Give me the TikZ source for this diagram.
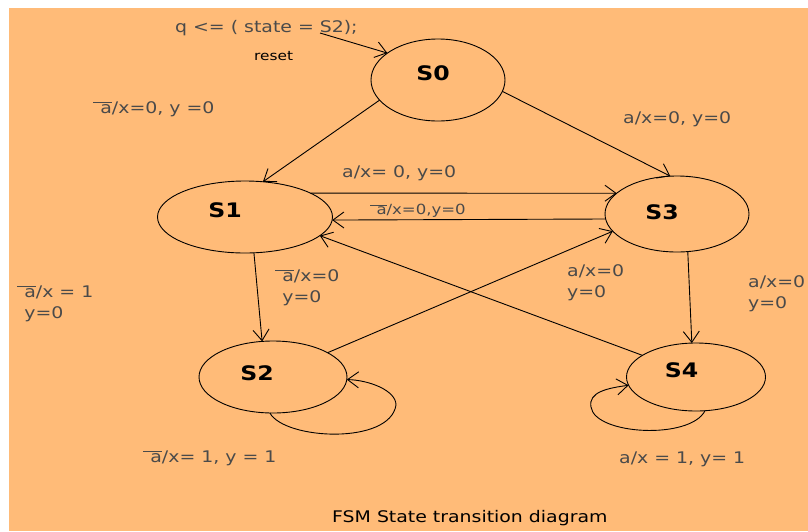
\documentclass[tikz,border=0pt]{standalone}
\usepackage{fontspec}
\usepackage{xcolor}
\usepackage{tikz}
\usetikzlibrary{arrows.meta,shapes.geometric}
\newfontfamily\fsmfont[FakeStretch=1.18]{DejaVu Sans}
\definecolor{fsmbg}{HTML}{FFBB78}
\definecolor{fsmgray}{HTML}{4A4A4A}
\newcommand{\na}{$\overline{\mbox{\hspace{0.45em}a}}$}
\newcommand{\stname}[3]{\hspace*{#1}\raisebox{#2}{#3}}

\begin{document}
\begin{tikzpicture}[x=1pt,y=-1pt]
  \tikzset{fsm state/.style 2 args={draw,ellipse,line width=0.9pt,inner sep=0pt,outer sep=0pt,minimum width=#1,minimum height=#2,font=\fsmfont\fontsize{20}{24}\selectfont\bfseries},
    fsm arrow/.style={line width=0.9pt,-{Straight Barb[length=11pt,width=16pt]}},
    fsm label/.style={anchor=base west,inner sep=0pt,text=fsmgray,align=left,font=\fsmfont\fontsize{16}{21}\selectfont}}%

  \fill[fsmbg] (9,8) rectangle (808,531);
  \useasboundingbox (0,0) rectangle (808,531);

  % states
  \node[fsm state={134pt}{82pt}] (S0) at (438,80) {\stname{-10pt}{14pt}{S0}};
  \node[fsm state={175pt}{72pt}] (S1) at (245,217) {\stname{-40pt}{14pt}{S1}};
  \node[fsm state={144pt}{76pt}] (S3) at (677,214) {\stname{-30pt}{4pt}{S3}};
  \node[fsm state={148pt}{72pt}] (S2) at (273,377) {\stname{-32pt}{8pt}{S2}};
  \node[fsm state={139pt}{68pt}] (S4) at (696,377) {\stname{-29pt}{14pt}{S4}};

  % transitions
  \coordinate (rst) at (320,33);
  \draw[fsm arrow] (rst) -- (S0.152);
  \draw[fsm arrow] (S0.199) -- (S1.63);
  \draw[fsm arrow] (S0.-10) -- (S3.100);
  \draw[fsm arrow] (S1.20) -- (S3.161);
  \draw[fsm arrow] (S3.184) -- (S1.-2);
  \draw[fsm arrow] (S1.-76) -- (S2.107);
  \draw[fsm arrow] (S2.24) -- (S3.195);
  \draw[fsm arrow] (S4.158) -- (S1.-14);
  \draw[fsm arrow] (S3.-74) -- (S4.97);
  \draw[fsm arrow] (S2.-95) .. controls (285,440) and (390,445) .. (396,405)
    .. controls (396,390) and (368,380) .. (S2.-2);
  \draw[fsm arrow] (S4.-75) .. controls (690,440) and (595,435) .. (591,407)
    .. controls (588,392) and (608,388) .. (S4.187.5);

  % labels
  \node[fsm label] (lblq) at (175,32) {q <= ( state = S2);};
  \node[fsm label,text=black,font=\fsmfont\fontsize{13}{15}\selectfont] (lblreset) at (254,60) {reset};
  \node[fsm label] (lblS1) at (93,113) {\na/x=0, y =0};
  \node[fsm label] (lblS0S3) at (623,123) {a/x=0, y=0};
  \node[fsm label] (lblS1S3) at (342,177) {a/x= 0, y=0};
  \node[fsm label,font=\fsmfont\fontsize{14}{17}\selectfont] (lblS3S1) at (370,214) {\na/x=0,y=0};
  \node[fsm label] (lblleft) at (17,318) {\na/x = 1\\\hspace*{0.45em}y=0};
  \node[fsm label] (lblS1S2) at (275,302) {\na/x=0\\\hspace*{0.45em}y=0};
  \node[fsm label] (lblS2S3) at (567,297) {a/x=0\\y=0};
  \node[fsm label] (lblS3S4) at (748,308) {a/x=0\\y=0};
  \node[fsm label] (lblS2loop) at (143,462) {\na/x= 1, y = 1};
  \node[fsm label] (lblS4loop) at (619,463) {a/x = 1, y= 1};
  \node[fsm label,text=black] (caption) at (332,522) {FSM State transition diagram};
\end{tikzpicture}
\end{document}
